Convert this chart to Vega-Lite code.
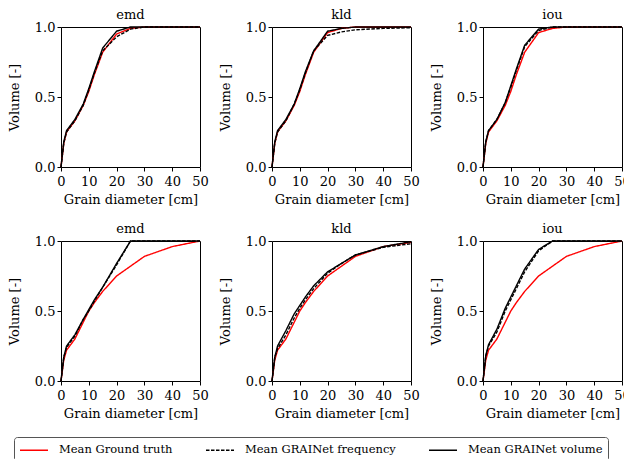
{
  "$schema": "https://vega.github.io/schema/vega-lite/v6.json",
  "padding": {"left": 7, "top": 8, "right": 3, "bottom": 0},
  "background": "white",
  "data": {"values": [
    {"p":"te","d":0,"gt":0,"freq":0,"vol":0},
    {"p":"te","d":1,"gt":0.17,"freq":0.17,"vol":0.18},
    {"p":"te","d":2,"gt":0.25,"freq":0.25,"vol":0.26},
    {"p":"te","d":5,"gt":0.33,"freq":0.33,"vol":0.34},
    {"p":"te","d":8,"gt":0.44,"freq":0.44,"vol":0.45},
    {"p":"te","d":10,"gt":0.54,"freq":0.55,"vol":0.56},
    {"p":"te","d":12,"gt":0.66,"freq":0.67,"vol":0.68},
    {"p":"te","d":15,"gt":0.82,"freq":0.83,"vol":0.85},
    {"p":"te","d":20,"gt":0.95,"freq":0.93,"vol":0.97},
    {"p":"te","d":25,"gt":0.99,"freq":0.985,"vol":1},
    {"p":"te","d":30,"gt":1,"freq":1,"vol":1},
    {"p":"te","d":40,"gt":1,"freq":1,"vol":1},
    {"p":"te","d":50,"gt":1,"freq":1,"vol":1},
    {"p":"tk","d":0,"gt":0,"freq":0,"vol":0},
    {"p":"tk","d":1,"gt":0.17,"freq":0.17,"vol":0.18},
    {"p":"tk","d":2,"gt":0.25,"freq":0.25,"vol":0.26},
    {"p":"tk","d":5,"gt":0.33,"freq":0.33,"vol":0.34},
    {"p":"tk","d":8,"gt":0.44,"freq":0.45,"vol":0.45},
    {"p":"tk","d":10,"gt":0.54,"freq":0.55,"vol":0.56},
    {"p":"tk","d":12,"gt":0.66,"freq":0.67,"vol":0.68},
    {"p":"tk","d":15,"gt":0.82,"freq":0.83,"vol":0.83},
    {"p":"tk","d":20,"gt":0.96,"freq":0.94,"vol":0.97},
    {"p":"tk","d":25,"gt":0.99,"freq":0.965,"vol":0.99},
    {"p":"tk","d":30,"gt":1,"freq":0.98,"vol":1},
    {"p":"tk","d":40,"gt":1,"freq":0.99,"vol":1},
    {"p":"tk","d":50,"gt":1,"freq":0.995,"vol":1},
    {"p":"ti","d":0,"gt":0,"freq":0,"vol":0},
    {"p":"ti","d":1,"gt":0.17,"freq":0.18,"vol":0.18},
    {"p":"ti","d":2,"gt":0.25,"freq":0.26,"vol":0.26},
    {"p":"ti","d":5,"gt":0.33,"freq":0.34,"vol":0.34},
    {"p":"ti","d":8,"gt":0.44,"freq":0.46,"vol":0.46},
    {"p":"ti","d":10,"gt":0.54,"freq":0.57,"vol":0.58},
    {"p":"ti","d":12,"gt":0.66,"freq":0.69,"vol":0.7},
    {"p":"ti","d":15,"gt":0.82,"freq":0.86,"vol":0.87},
    {"p":"ti","d":20,"gt":0.96,"freq":0.975,"vol":0.985},
    {"p":"ti","d":25,"gt":0.99,"freq":1,"vol":1},
    {"p":"ti","d":30,"gt":1,"freq":1,"vol":1},
    {"p":"ti","d":40,"gt":1,"freq":1,"vol":1},
    {"p":"ti","d":50,"gt":1,"freq":1,"vol":1},
    {"p":"be","d":0,"gt":0,"freq":0,"vol":0},
    {"p":"be","d":1,"gt":0.15,"freq":0.17,"vol":0.17},
    {"p":"be","d":2,"gt":0.22,"freq":0.24,"vol":0.25},
    {"p":"be","d":5,"gt":0.3,"freq":0.32,"vol":0.33},
    {"p":"be","d":8,"gt":0.42,"freq":0.44,"vol":0.44},
    {"p":"be","d":10,"gt":0.5,"freq":0.5,"vol":0.51},
    {"p":"be","d":12,"gt":0.56,"freq":0.57,"vol":0.58},
    {"p":"be","d":15,"gt":0.64,"freq":0.67,"vol":0.67},
    {"p":"be","d":20,"gt":0.75,"freq":0.83,"vol":0.84},
    {"p":"be","d":25,"gt":0.82,"freq":1,"vol":1},
    {"p":"be","d":30,"gt":0.89,"freq":1,"vol":1},
    {"p":"be","d":40,"gt":0.96,"freq":1,"vol":1},
    {"p":"be","d":50,"gt":1,"freq":1,"vol":1},
    {"p":"bk","d":0,"gt":0,"freq":0,"vol":0},
    {"p":"bk","d":1,"gt":0.15,"freq":0.17,"vol":0.17},
    {"p":"bk","d":2,"gt":0.22,"freq":0.23,"vol":0.25},
    {"p":"bk","d":5,"gt":0.3,"freq":0.33,"vol":0.36},
    {"p":"bk","d":8,"gt":0.42,"freq":0.45,"vol":0.48},
    {"p":"bk","d":10,"gt":0.5,"freq":0.52,"vol":0.54},
    {"p":"bk","d":12,"gt":0.56,"freq":0.58,"vol":0.6},
    {"p":"bk","d":15,"gt":0.64,"freq":0.66,"vol":0.68},
    {"p":"bk","d":20,"gt":0.75,"freq":0.77,"vol":0.78},
    {"p":"bk","d":25,"gt":0.82,"freq":0.84,"vol":0.84},
    {"p":"bk","d":30,"gt":0.89,"freq":0.9,"vol":0.9},
    {"p":"bk","d":40,"gt":0.96,"freq":0.955,"vol":0.96},
    {"p":"bk","d":50,"gt":0.99,"freq":0.98,"vol":0.995},
    {"p":"bi","d":0,"gt":0,"freq":0,"vol":0},
    {"p":"bi","d":1,"gt":0.15,"freq":0.18,"vol":0.18},
    {"p":"bi","d":2,"gt":0.22,"freq":0.25,"vol":0.26},
    {"p":"bi","d":5,"gt":0.3,"freq":0.35,"vol":0.37},
    {"p":"bi","d":8,"gt":0.42,"freq":0.5,"vol":0.52},
    {"p":"bi","d":10,"gt":0.5,"freq":0.58,"vol":0.6},
    {"p":"bi","d":12,"gt":0.56,"freq":0.66,"vol":0.68},
    {"p":"bi","d":15,"gt":0.64,"freq":0.78,"vol":0.8},
    {"p":"bi","d":20,"gt":0.75,"freq":0.93,"vol":0.94},
    {"p":"bi","d":25,"gt":0.82,"freq":1,"vol":1},
    {"p":"bi","d":30,"gt":0.89,"freq":1,"vol":1},
    {"p":"bi","d":40,"gt":0.96,"freq":1,"vol":1},
    {"p":"bi","d":50,"gt":1,"freq":1,"vol":1}
  ]},
  "transform": [{"fold": ["gt", "freq", "vol"]}],
  "config": {
    "font": "DejaVu Serif",
    "view": {"stroke": "black", "strokeWidth": 1},
    "axis": {"domain": false, "grid": false, "tickColor": "black", "tickSize": 4, "labelColor": "black", "labelFont": "DejaVu Serif", "labelFontSize": 13, "labelFlush": false, "titleFont": "DejaVu Serif", "titleFontSize": 13, "titleFontWeight": "normal", "titleColor": "black", "labelPadding": 2},
    "axisX": {"labelPadding": 4, "titlePadding": 5},
    "axisY": {"titlePadding": 13},
    "title": {"font": "DejaVu Serif", "fontSize": 13, "fontWeight": "normal", "color": "black", "offset": -1},
    "legend": {"labelFont": "DejaVu Serif", "labelFontSize": 11.5, "labelColor": "black", "title": null, "orient": "none", "legendX": -47, "legendY": 410, "direction": "horizontal", "symbolType": "M-1,0H3", "symbolSize": 196, "symbolStrokeWidth": 1.5, "labelOffset": 24, "strokeColor": "#555", "padding": 5, "cornerRadius": 3, "columnPadding": 30}
  },
  "vconcat": [
    {"spacing": 9, "hconcat": [
      {"title": "emd", "width": 139, "height": 140, "transform": [{"filter": "datum.p === 'te'"}], "mark": {"type": "line", "strokeWidth": 1.4}, "encoding": {
        "x": {"field": "d", "type": "quantitative", "scale": {"domain": [0, 50]}, "axis": {"values": [0,10,20,30,40,50], "title": "Grain diameter [cm]"}},
        "y": {"field": "value", "type": "quantitative", "scale": {"domain": [0, 1]}, "axis": {"values": [0,0.5,1], "format": ".1f", "title": "Volume [-]"}},
        "color": {"field": "key", "type": "nominal", "scale": {"domain": ["gt","freq","vol"], "range": ["red","black","black"]}, "legend": {"labelExpr": "datum.value === 'gt' ? 'Mean Ground truth' : datum.value === 'freq' ? 'Mean GRAINet frequency' : 'Mean GRAINet volume'"}},
        "strokeDash": {"field": "key", "type": "nominal", "scale": {"domain": ["gt","freq","vol"], "range": [[1,0],[3.5,1.5],[1,0]]}, "legend": {"labelExpr": "datum.value === 'gt' ? 'Mean Ground truth' : datum.value === 'freq' ? 'Mean GRAINet frequency' : 'Mean GRAINet volume'"}}
      }},
      {"title": "kld", "width": 139, "height": 140, "transform": [{"filter": "datum.p === 'tk'"}], "mark": {"type": "line", "strokeWidth": 1.4}, "encoding": {
        "x": {"field": "d", "type": "quantitative", "scale": {"domain": [0, 50]}, "axis": {"values": [0,10,20,30,40,50], "title": "Grain diameter [cm]"}},
        "y": {"field": "value", "type": "quantitative", "scale": {"domain": [0, 1]}, "axis": {"values": [0,0.5,1], "format": ".1f", "title": "Volume [-]"}},
        "color": {"field": "key", "type": "nominal"},
        "strokeDash": {"field": "key", "type": "nominal"}
      }},
      {"title": "iou", "width": 139, "height": 140, "transform": [{"filter": "datum.p === 'ti'"}], "mark": {"type": "line", "strokeWidth": 1.4}, "encoding": {
        "x": {"field": "d", "type": "quantitative", "scale": {"domain": [0, 50]}, "axis": {"values": [0,10,20,30,40,50], "title": "Grain diameter [cm]"}},
        "y": {"field": "value", "type": "quantitative", "scale": {"domain": [0, 1]}, "axis": {"values": [0,0.5,1], "format": ".1f", "title": "Volume [-]"}},
        "color": {"field": "key", "type": "nominal"},
        "strokeDash": {"field": "key", "type": "nominal"}
      }}
    ]},
    {"spacing": 9, "hconcat": [
      {"title": "emd", "width": 139, "height": 140, "transform": [{"filter": "datum.p === 'be'"}], "mark": {"type": "line", "strokeWidth": 1.4}, "encoding": {
        "x": {"field": "d", "type": "quantitative", "scale": {"domain": [0, 50]}, "axis": {"values": [0,10,20,30,40,50], "title": "Grain diameter [cm]"}},
        "y": {"field": "value", "type": "quantitative", "scale": {"domain": [0, 1]}, "axis": {"values": [0,0.5,1], "format": ".1f", "title": "Volume [-]"}},
        "color": {"field": "key", "type": "nominal"},
        "strokeDash": {"field": "key", "type": "nominal"}
      }},
      {"title": "kld", "width": 139, "height": 140, "transform": [{"filter": "datum.p === 'bk'"}], "mark": {"type": "line", "strokeWidth": 1.4}, "encoding": {
        "x": {"field": "d", "type": "quantitative", "scale": {"domain": [0, 50]}, "axis": {"values": [0,10,20,30,40,50], "title": "Grain diameter [cm]"}},
        "y": {"field": "value", "type": "quantitative", "scale": {"domain": [0, 1]}, "axis": {"values": [0,0.5,1], "format": ".1f", "title": "Volume [-]"}},
        "color": {"field": "key", "type": "nominal"},
        "strokeDash": {"field": "key", "type": "nominal"}
      }},
      {"title": "iou", "width": 139, "height": 140, "transform": [{"filter": "datum.p === 'bi'"}], "mark": {"type": "line", "strokeWidth": 1.4}, "encoding": {
        "x": {"field": "d", "type": "quantitative", "scale": {"domain": [0, 50]}, "axis": {"values": [0,10,20,30,40,50], "title": "Grain diameter [cm]"}},
        "y": {"field": "value", "type": "quantitative", "scale": {"domain": [0, 1]}, "axis": {"values": [0,0.5,1], "format": ".1f", "title": "Volume [-]"}},
        "color": {"field": "key", "type": "nominal"},
        "strokeDash": {"field": "key", "type": "nominal"}
      }}
    ]}
  ],
  "spacing": 15
}
